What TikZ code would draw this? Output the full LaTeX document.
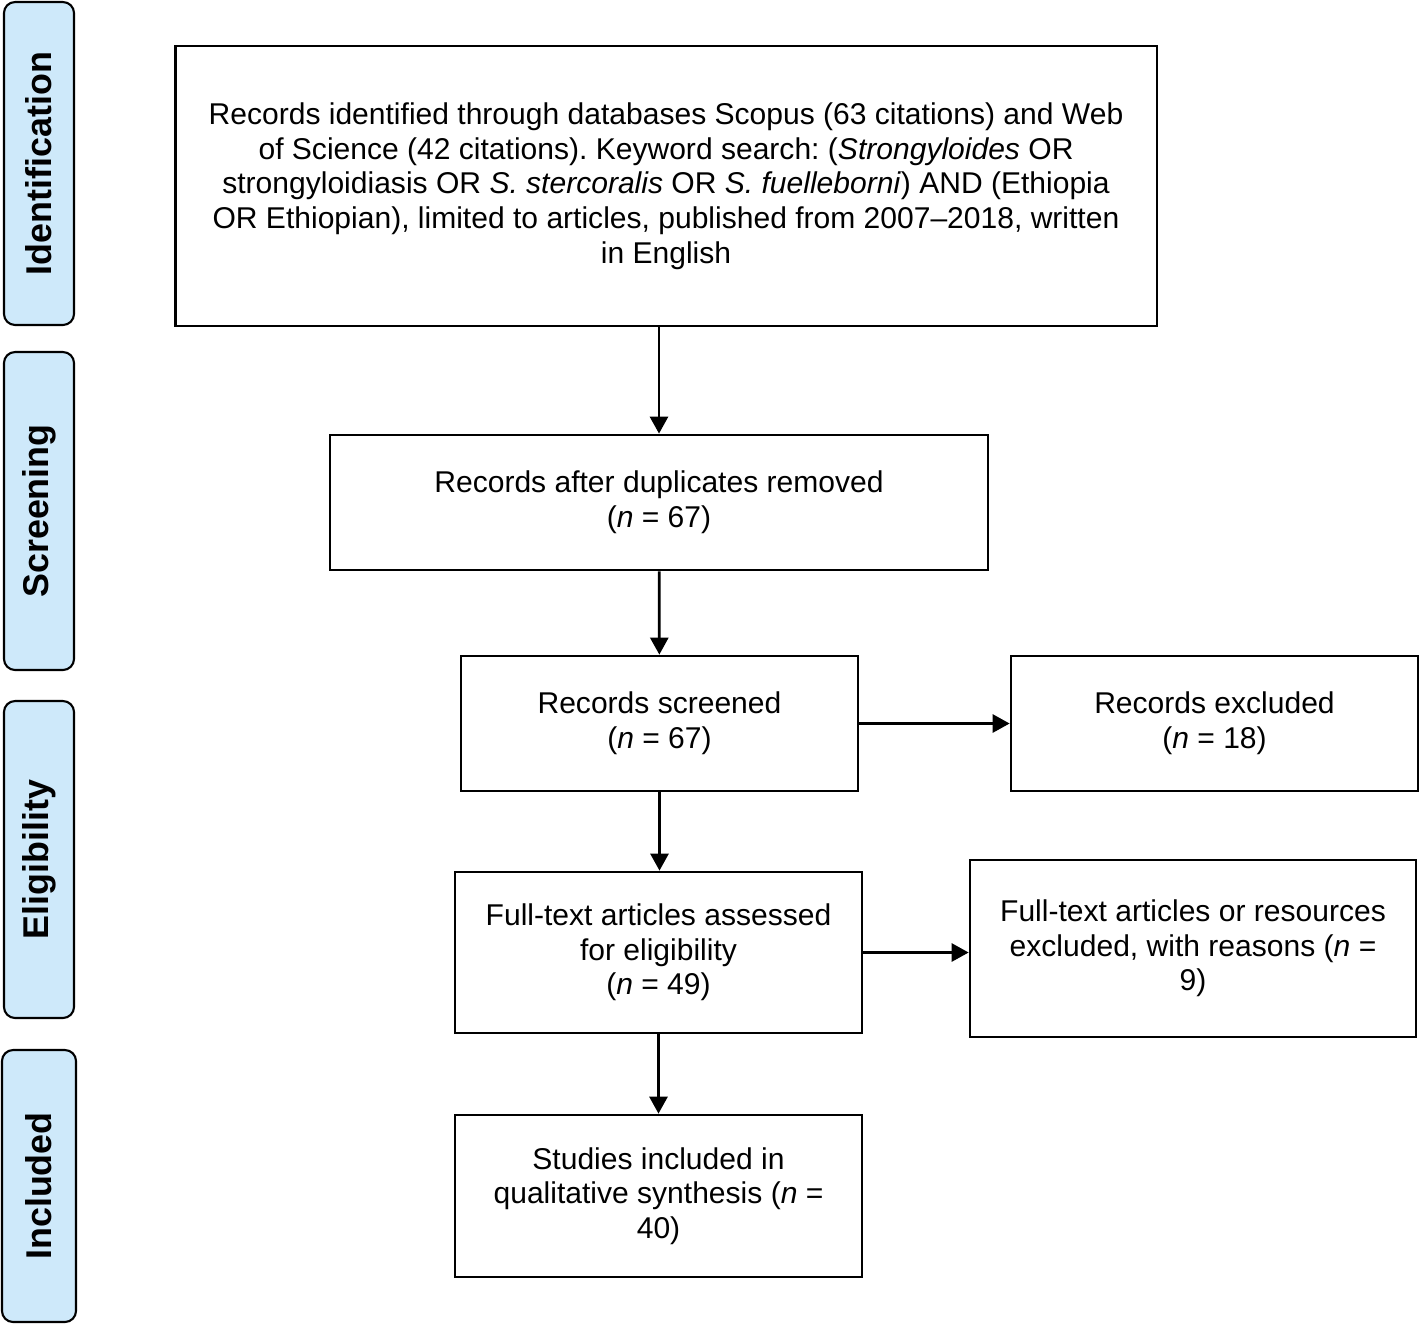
\documentclass[tikz,border=0pt]{standalone}
\usepackage{fontspec}
\setmainfont{Liberation Sans}
\usetikzlibrary{arrows.meta}
\definecolor{sidefill}{RGB}{206,233,250}
\frenchspacing
\tikzset{
  box/.style={draw, line width=1.6pt, inner sep=0pt, align=center,
    font=\fontsize{17.1}{19.7}\selectfont},
  side/.style={draw, line width=1.2pt, rounded corners=0.22cm, fill=sidefill,
    minimum width=1.4cm, inner sep=0pt, rotate=90,
    font=\fontsize{20.4}{24}\selectfont\bfseries},
  arr/.style={line width=1.6pt, -{Triangle[length=0.34cm,width=0.36cm]}}
}
\begin{document}
\begin{tikzpicture}[x=0.02cm, y=-0.02cm]
  \useasboundingbox (0,0) rectangle (1419,1323);
  % stage labels
  \node[side, minimum width=6.46cm, minimum height=1.4cm] (ident) at (39,163.5) {Identification};
  \node[side, minimum width=6.36cm, minimum height=1.4cm] (screen) at (39,511) {Screening};
  \node[side, minimum width=6.34cm, minimum height=1.4cm] (elig) at (39,859.5) {Eligibility};
  \node[side, minimum width=5.44cm, minimum height=1.48cm] (incl) at (39,1186) {Included};
  % flow boxes
  \node[box, minimum width=19.64cm, minimum height=5.6cm] (records) at (666,186)
    {Records identified through databases Scopus (63 citations) and Web\\
     of Science (42 citations). Keyword search: (\textit{Strongyloides} OR\\
     strongyloidiasis OR \textit{S. stercoralis} OR \textit{S. fuelleborni}) AND (Ethiopia\\
     OR Ethiopian), limited to articles, published from 2007–2018, written\\
     in English};
  \node[box, minimum width=13.16cm, minimum height=2.7cm] (dupl) at (659,502.5)
    {Records after duplicates removed\\(\textit{n} = 67)};
  \node[box, minimum width=7.94cm, minimum height=2.7cm] (screened) at (659.5,723.5)
    {Records screened\\(\textit{n} = 67)};
  \node[box, minimum width=8.14cm, minimum height=2.7cm] (excl) at (1214.5,723.5)
    {Records excluded\\(\textit{n} = 18)};
  \node[box, minimum width=8.14cm, minimum height=3.22cm] (fulltext) at (658.5,952.5)
    {Full-text articles assessed\\for eligibility\\(\textit{n} = 49)};
  \node[box, minimum width=8.92cm, minimum height=3.54cm] (ftexcl) at (1193,948.5)
    {Full-text articles or resources\\excluded, with reasons (\textit{n} =\\9)};
  \node[box, minimum width=8.14cm, minimum height=3.24cm] (studies) at (658.5,1196)
    {Studies included in\\qualitative synthesis (\textit{n} =\\40)};
  % arrows
  \begin{scope}[arr]
    \draw (records.south -| dupl) -- (dupl);
    \draw (dupl) -- (screened);
    \draw (screened) -- (excl);
    \draw (screened) -- (fulltext.north -| screened);
    \draw (fulltext.east) -- (fulltext.east -| ftexcl.west);
    \draw (fulltext) -- (studies);
  \end{scope}
\end{tikzpicture}
\end{document}
